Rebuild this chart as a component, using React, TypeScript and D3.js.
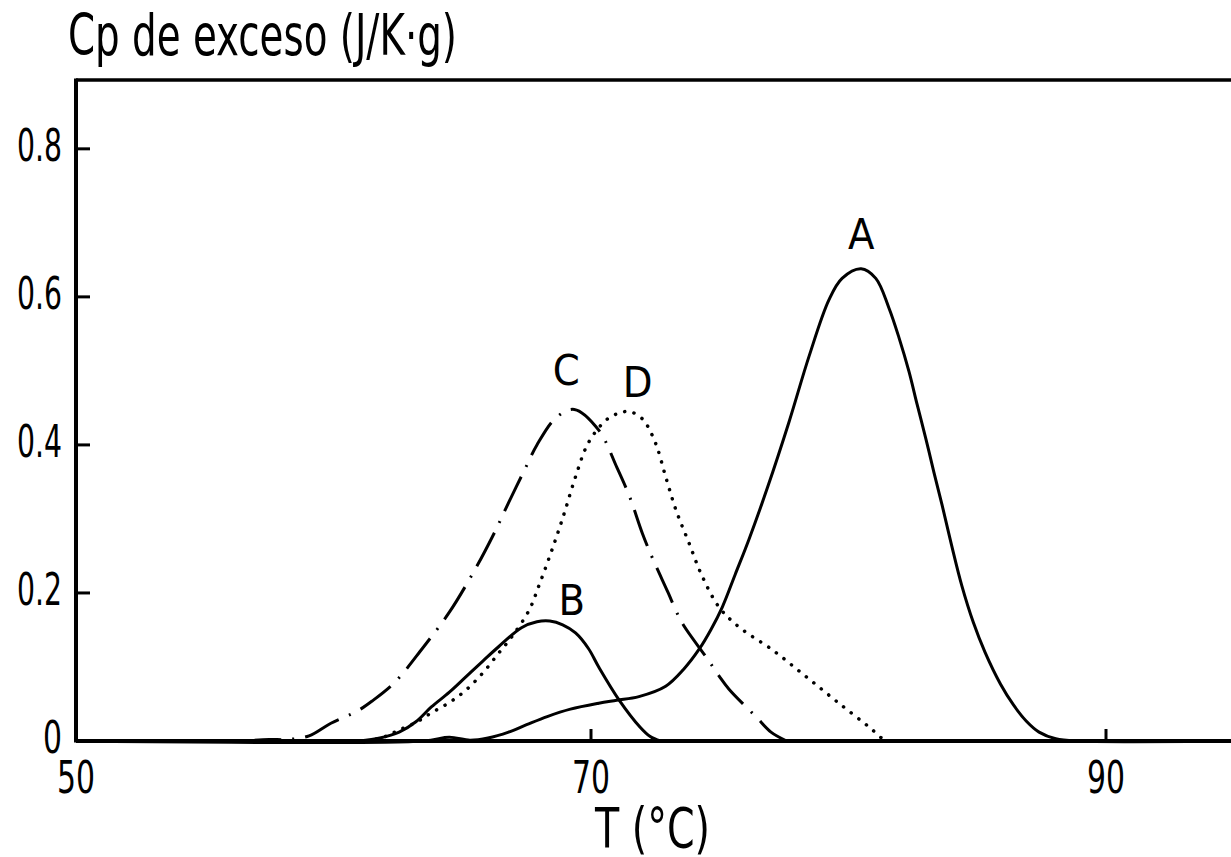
import { useEffect } from 'react';
import * as d3 from 'd3';

const W = 1231;
const H = 857;

// temperature (°C) / excess Cp (J/K·g)
const curveA: [number, number][] = [
  [50, 0], [63.5, 0], [64.5, 0.005], [65.3, 0.001], [66.0, 0.004], [66.8, 0.012],
  [67.5, 0.022], [68.3, 0.033], [69.2, 0.043], [70.3, 0.051], [71.0, 0.055],
  [71.86, 0.06], [72.9, 0.074], [73.6, 0.097], [74.2, 0.124], [74.65, 0.15],
  [75.1, 0.181], [75.6, 0.225], [76.13, 0.272], [76.85, 0.342], [77.69, 0.431],
  [78.47, 0.52], [79.24, 0.596], [79.75, 0.625], [80.49, 0.638], [81.06, 0.625],
  [81.57, 0.585], [81.96, 0.545], [82.35, 0.499], [82.67, 0.454], [83.0, 0.409],
  [83.31, 0.364], [83.64, 0.318], [84.0, 0.265], [84.4, 0.21], [84.85, 0.16],
  [85.3, 0.12], [85.9, 0.077], [86.4, 0.049], [86.9, 0.027], [87.4, 0.012],
  [88.05, 0.003], [89, 0], [95, 0],
];

const curveB: [number, number][] = [
  [61.0, 0], [61.8, 0.004], [62.55, 0.012], [63.2, 0.026], [63.8, 0.046],
  [64.5, 0.066], [65.15, 0.087], [65.8, 0.108], [66.4, 0.127], [67.3, 0.153],
  [67.9, 0.161], [68.4, 0.162], [68.9, 0.157], [69.4, 0.146], [69.9, 0.125],
  [70.3, 0.1], [71.1, 0.055], [71.9, 0.019], [72.3, 0.006], [72.7, 0],
];

const curveC: [number, number][] = [
  [56.5, 0], [57.5, 0.002], [58.2, 0.002], [59.05, 0.007], [59.9, 0.024],
  [60.9, 0.04], [61.5, 0.054], [62.4, 0.08], [63.45, 0.125], [64.5, 0.174],
  [65.5, 0.232], [66.2, 0.278], [66.8, 0.322], [67.5, 0.372], [67.9, 0.4],
  [68.65, 0.437], [69.35, 0.448], [70.3, 0.42], [71.0, 0.37], [71.5, 0.33],
  [72.0, 0.28], [72.4, 0.246], [73.0, 0.2], [73.3, 0.176], [73.6, 0.156],
  [74.5, 0.112], [74.97, 0.088], [75.36, 0.07], [76.4, 0.033], [76.99, 0.012],
  [77.6, 0],
];

const curveD: [number, number][] = [
  [61.3, 0], [62.0, 0.006], [62.55, 0.015], [63.2, 0.025], [63.8, 0.038],
  [64.5, 0.052], [65.15, 0.069], [65.8, 0.092], [66.4, 0.118], [66.95, 0.142],
  [67.6, 0.177], [68.0, 0.212], [68.4, 0.25], [68.7, 0.28], [69.0, 0.312],
  [69.4, 0.357], [69.9, 0.403], [70.6, 0.434], [71.1, 0.443], [71.5, 0.445],
  [72.0, 0.435], [72.5, 0.403], [72.9, 0.357], [73.3, 0.312], [73.8, 0.268],
  [74.3, 0.224], [74.97, 0.181], [75.75, 0.154], [77.05, 0.123], [78.35, 0.087],
  [79.63, 0.051], [80.93, 0.015], [81.4, 0],
];

const xTicks = [50, 70, 90];
const yTicks = [0, 0.2, 0.4, 0.6, 0.8];
const yTickLabels = ['0', '0.2', '0.4', '0.6', '0.8'];

const series = [
  { name: 'A', data: curveA, dash: 'none' },
  { name: 'B', data: curveB, dash: 'none' },
  { name: 'C', data: curveC, dash: '38 11 2 11' },
  { name: 'D', data: curveD, dash: '0.1 9.5' },
];

const FONT = "'DejaVu Sans Condensed', 'DejaVu Sans', sans-serif";

// the scan's digits are narrow: squeeze each label to about that width
const labelWidth = (s: string) =>
  s.split('').reduce((w, c) => w + (c === '.' ? 7 : 19), 0);

export default function App() {
  useEffect(() => {
    document.body.style.margin = '0';
    document.body.style.background = '#fff';
  }, []);

  const x = d3.scaleLinear().domain([50, 95]).range([76, 76 + 45 * 25.75]);
  const y = d3.scaleLinear().domain([0, 0.893]).range([741, 80]);

  const line = d3
    .line<[number, number]>()
    .x(d => x(d[0]))
    .y(d => y(d[1]))
    .curve(d3.curveCatmullRom.alpha(0.5));

  const peak = (data: [number, number][]) =>
    data.reduce((m, d) => (d[1] > m[1] ? d : m), data[0]);

  // label offsets from each curve's maximum
  const labelShift: Record<string, [number, number]> = {
    A: [0, -20],
    B: [22, -6],
    C: [-8, -24],
    D: [8, -15],
  };

  return (
    <svg width={W} height={H} style={{ display: 'block', background: '#fff' }} fontFamily={FONT}>
      <text x={68} y={55} fontSize={57} textLength={389} lengthAdjust="spacingAndGlyphs">
        Cp de exceso (J/K·g)
      </text>

      {/* frame */}
      <line x1={x(50)} x2={W} y1={y(0.893)} y2={y(0.893)} stroke="#000" strokeWidth={3.5} />
      <line x1={x(50)} x2={x(50)} y1={y(0.893) - 1.5} y2={y(0) + 1.5} stroke="#000" strokeWidth={4} />
      <line x1={x(50)} x2={W} y1={y(0)} y2={y(0)} stroke="#000" strokeWidth={4} />

      {yTicks.map((t, i) => (
        <g key={t}>
          {t > 0 && (
            <line x1={x(50)} x2={x(50) + 14} y1={y(t)} y2={y(t)} stroke="#000" strokeWidth={3} />
          )}
          <text
            x={x(50) - 14}
            y={y(t) + 12}
            fontSize={45}
            textAnchor="end"
            textLength={labelWidth(yTickLabels[i])}
            lengthAdjust="spacingAndGlyphs"
          >
            {yTickLabels[i]}
          </text>
        </g>
      ))}

      {xTicks.map(t => (
        <g key={t}>
          {t > 50 && (
            <line x1={x(t)} x2={x(t)} y1={y(0)} y2={y(0) - 12} stroke="#000" strokeWidth={3} />
          )}
          <text
            x={x(t)}
            y={y(0) + 52}
            fontSize={45}
            textAnchor="middle"
            textLength={labelWidth(String(t))}
            lengthAdjust="spacingAndGlyphs"
          >
            {t}
          </text>
        </g>
      ))}

      <text x={595} y={847} fontSize={55} textLength={115} lengthAdjust="spacingAndGlyphs">
        T (°C)
      </text>

      {series.map(s => (
        <path
          key={s.name}
          d={line(s.data) || ''}
          fill="none"
          stroke="#000"
          strokeWidth={s.name === 'D' ? 3.5 : 3}
          strokeDasharray={s.dash}
          strokeLinecap={s.name === 'D' ? 'round' : 'butt'}
        />
      ))}

      {series.map(s => {
        const p = peak(s.data);
        const [dx, dy] = labelShift[s.name];
        return (
          <text key={s.name} x={x(p[0]) + dx} y={y(p[1]) + dy} fontSize={43} textAnchor="middle">
            {s.name}
          </text>
        );
      })}
    </svg>
  );
}
